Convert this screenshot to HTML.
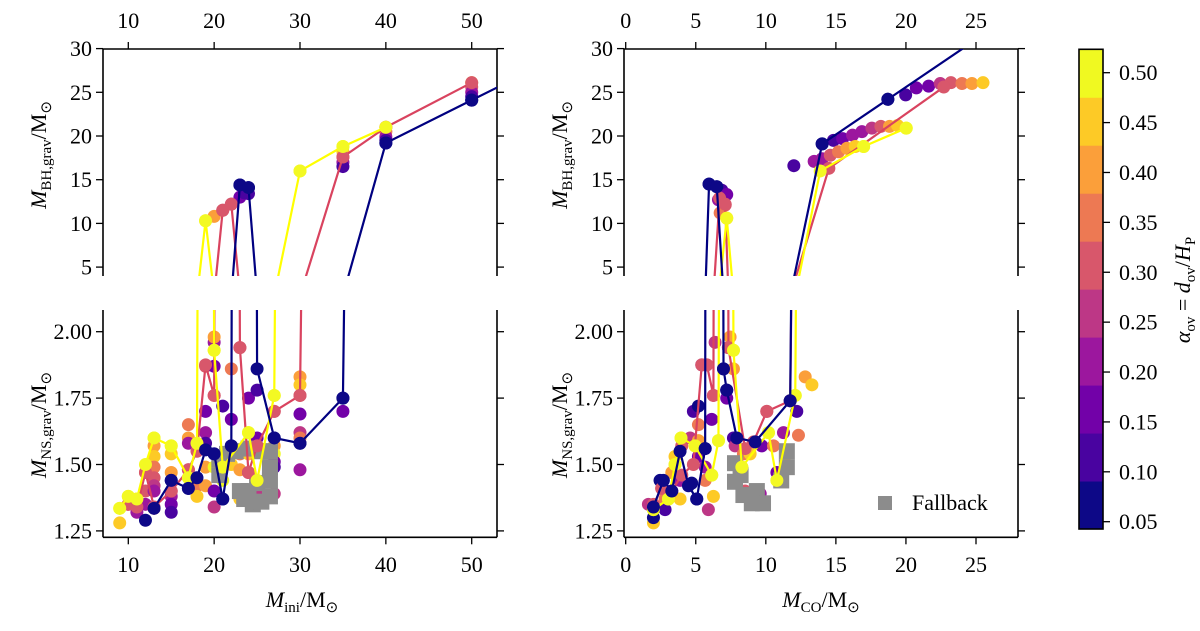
<!DOCTYPE html>
<html><head><meta charset="utf-8">
<style>
html,body{margin:0;padding:0;background:#fff;}
svg, svg text{font-family:'Liberation Serif', serif !important;}
</style></head>
<body>
<svg id="fig" width="1200" height="626" viewBox="0 0 1200 626" xmlns="http://www.w3.org/2000/svg">
<defs>
<clipPath id="clipTL"><rect x="103" y="49" width="394" height="227"/></clipPath>
<clipPath id="clipBL"><rect x="103" y="310" width="394" height="228"/></clipPath>
<clipPath id="clipTR"><rect x="624" y="49" width="394" height="227"/></clipPath>
<clipPath id="clipBR"><rect x="624" y="310" width="394" height="228"/></clipPath>
</defs>
</svg>
<script>
// ---------- data ----------
const plasmaColors = ["#0d0887","#4903a0","#7201a8","#9c179e","#bd3786","#d8576b","#ed7953","#fb9f3a","#fdca26","#f0f921"];
const alphaLevels = [0.05,0.10,0.15,0.20,0.25,0.30,0.35,0.40,0.45,0.50];
const cbarTicks = [0.05,0.10,0.15,0.20,0.25,0.30,0.35,0.40,0.45,0.50];

const iniTicks = [10,20,30,40,50];
const coTicks = [0,5,10,15,20,25];
const bhTicks = [5,10,15,20,25,30];
const nsTicks = [1.25,1.50,1.75,2.00];

// left: M_ini panels — NS scatter
const iniNsX = [9,9,10,11,10,11,12,12,13,12,12,13,13,13,13,13,13,13,15,15,15,15,15,15,15,15,17,17,17,17,17,17,18,18,19,19,19,19,19,19,20,20,20,20,20,20,20,20,20,21,21,21,21,22,22,22,22,23,23,23,23,24,24,24,24,25,25,25,25,25,25,24,27,27,27,27,27,27,27,27,30,30,30,30,30,30,30,30,35,35];
const iniNsY = [1.28,1.335,1.38,1.37,1.35,1.32,1.35,1.29,1.335,1.40,1.47,1.60,1.57,1.53,1.49,1.45,1.42,1.40,1.57,1.54,1.47,1.44,1.40,1.38,1.35,1.32,1.65,1.60,1.58,1.48,1.45,1.41,1.42,1.38,1.87,1.70,1.62,1.58,1.49,1.42,1.96,1.98,1.93,1.87,1.76,1.54,1.49,1.40,1.34,1.72,1.49,1.44,1.37,1.86,1.67,1.57,1.50,1.94,1.54,1.48,1.37,1.75,1.62,1.54,1.47,1.78,1.60,1.57,1.44,1.40,1.36,1.36,1.76,1.70,1.60,1.57,1.54,1.51,1.49,1.39,1.83,1.80,1.76,1.69,1.62,1.58,1.48,1.60,1.75,1.70];
const iniNsC = [8,9,9,8,6,3,3,0,5,5,6,9,7,8,6,5,4,3,9,8,7,0,5,3,2,1,6,7,3,4,9,0,6,8,5,2,3,1,7,7,3,7,9,2,5,0,9,2,4,1,9,9,0,6,2,0,8,5,6,7,8,2,9,8,3,1,2,5,9,4,8,7,9,5,0,7,9,2,1,4,7,8,5,2,4,0,3,6,0,2];
// left: BH scatter
const iniBhX = [19,20,21,22,23,23,24,24,23.5,30,35,35,35,35,35,40,40,40,40,40,50,50,50,50,50];
const iniBhY = [10.3,10.8,11.5,12.2,13.0,14.4,14.1,13.4,13.5,16.0,18.8,18.2,17.6,17.0,16.5,21.0,20.5,19.9,19.5,19.2,26.1,25.6,25.0,24.5,24.1];
const iniBhC = [9,7,5,4,2,0,0,1,1,9,9,8,6,3,1,8,6,3,1,0,8,5,3,1,0];
// left: fallback
const iniFbX = [20.6,20.6,21.5,22.5,24.0,25.5,26.5,26.5,26.5,23.0,23.5,24.5,25.5,26.5,24.0,25.0];
const iniFbY = [1.52,1.46,1.54,1.55,1.56,1.55,1.55,1.49,1.44,1.40,1.37,1.35,1.36,1.38,1.40,1.43];
// left: lines (alpha 0.05, 0.30, 0.50)
const iniNavyX = [13,15,17,18,19,20,21,22,23,24,25,27,30,35,40,50,55];
const iniNavyY = [1.335,1.44,1.41,1.45,1.555,1.54,1.37,1.57,14.4,14.1,1.86,1.60,1.58,1.75,19.2,24.1,26.55];
const iniRedX = [10,11,12,13,15,17,18,19,20,21,22,23,24,25,27,30,35,40,50];
const iniRedY = [1.35,1.34,1.47,1.34,1.40,1.48,1.55,1.875,1.76,11.5,12.2,1.94,1.47,1.57,1.70,1.76,17.6,21.0,26.1];
const iniYelX = [9,10,11,12,13,15,17,18,19,20,21,24,25,27,30,35,40];
const iniYelY = [1.335,1.38,1.37,1.50,1.60,1.57,1.45,1.58,10.3,1.93,1.49,1.62,1.44,1.76,16.0,18.8,21.0];

// right: M_CO panels — NS scatter
const coNsX = [1.98,1.98,1.62,1.98,2.45,2.57,2.81,2.81,3.05,3.29,3.29,3.52,3.52,3.88,3.88,3.95,4.0,4.6,4.83,5.19,5.19,5.19,5.19,4.95,4.71,5.07,5.67,5.67,5.67,5.79,5.43,6.14,6.14,6.26,6.38,5.9,6.26,6.62,6.98,7.33,7.45,7.69,7.69,7.21,7.21,7.69,7.81,7.93,8.29,8.4,8.52,8.88,9.12,9.24,9.6,9.83,9.71,10.07,10.19,10.55,10.79,10.79,11.26,11.5,11.74,12.1,12.21,12.33,12.81,13.29];
const coNsY = [1.28,1.30,1.35,1.33,1.44,1.41,1.37,1.33,1.37,1.47,1.39,1.50,1.53,1.44,1.37,1.60,1.57,1.60,1.70,1.72,1.65,1.59,1.53,1.57,1.43,1.37,1.44,1.49,1.56,1.875,1.875,1.67,1.46,1.76,1.96,1.33,1.38,1.59,1.86,1.94,1.98,1.93,1.86,1.78,1.75,1.60,1.57,1.44,1.49,1.54,1.40,1.54,1.36,1.585,1.39,1.35,1.57,1.70,1.62,1.57,1.44,1.47,1.62,1.54,1.74,1.76,1.70,1.61,1.83,1.80];
const coNsC = [8,0,4,9,0,5,6,1,9,7,4,9,8,3,8,9,5,4,1,0,6,7,2,9,0,0,6,3,0,5,3,2,9,5,4,4,8,9,0,3,7,9,7,0,2,1,4,8,9,6,5,8,8,0,3,7,2,5,9,6,9,2,3,8,0,9,1,6,7,8];
// right: BH scatter
const coBhX = [5.95,6.5,6.86,7.21,6.62,7.1,6.74,7.21,12.0,13.45,14.02,14.83,15.48,16.19,16.86,17.57,18.21,18.83,19.4,20.02,14.02,14.6,15.19,15.79,16.38,16.98,18.71,19.98,20.74,21.62,22.45,23.21,24.0,24.71,25.5];
const coBhY = [14.5,14.2,13.8,13.3,12.7,12.1,11.2,10.6,16.6,17.1,19.1,19.5,19.7,20.1,20.5,20.9,21.1,21.1,21.2,20.9,17.4,17.8,18.2,18.6,18.8,18.8,24.2,24.7,25.5,25.7,26.0,26.1,26.0,26.0,26.1];
const coBhC = [0,0,1,2,3,5,6,8,1,3,0,1,2,3,3,4,5,7,8,9,3,5,6,7,8,9,0,1,2,2,4,5,6,7,8];
// right: fallback
const coFbX = [7.8,7.8,8.4,9.36,9.8,9.0,11.1,11.5,8.2,11.5];
const coFbY = [1.505,1.435,1.385,1.40,1.354,1.354,1.44,1.55,1.46,1.49];
// right: lines
const coNavyX = [1.98,2.69,3.29,3.88,4.48,5.07,5.67,5.95,6.5,6.98,7.21,7.93,9.24,11.74,14.02,18.71,27];
const coNavyY = [1.34,1.44,1.40,1.55,1.42,1.37,1.56,14.5,14.2,1.86,1.78,1.60,1.585,1.74,19.1,24.2,33.2];
const coRedX = [1.98,2.57,3.29,4.0,4.83,5.43,5.79,6.26,6.7,7.1,7.33,8.52,9.12,10.07,11.74,14.5,22.7];
const coRedY = [1.35,1.41,1.40,1.46,1.50,1.875,1.875,1.76,12.9,12.2,1.94,1.56,1.585,1.70,1.74,16.3,25.6];
const coYelX = [1.98,3.05,3.52,3.95,4.95,6.14,6.62,7.21,7.69,8.29,10.19,10.79,12.1,13.88,16.98,20.02];
const coYelY = [1.33,1.37,1.50,1.60,1.57,1.46,1.59,10.6,1.93,1.49,1.62,1.44,1.76,16.0,18.8,20.9];

// ---------- axes ----------
const NS = "http://www.w3.org/2000/svg";
const svg = document.getElementById('fig');
function mk(tag, attrs, parent){ const e=document.createElementNS(NS,tag); for(const k in attrs) e.setAttribute(k,attrs[k]); if(tag==='text') e.style.fontFamily="'Liberation Serif', serif"; (parent||svg).appendChild(e); return e; }
function lin(d0,d1,r0,r1){ return v => r0 + (v-d0)*(r1-r0)/(d1-d0); }

const xIni = lin(10,50,128.3,471.7);
const xCo  = lin(0,25,625.7,976);
const yBh  = lin(30,5,48.6,267.1);
const yNs  = lin(2.0,1.25,331.7,530.9);
const cbY  = lin(0.05,0.50,521.7,72.7);

const panels = [
  {name:'ini-bh', x:xIni, y:yBh, clip:'clipTL', L:103, R:497, T:49, B:276, top:true},
  {name:'ini-ns', x:xIni, y:yNs, clip:'clipBL', L:103, R:497, T:310, B:537.3, top:false},
  {name:'co-bh', x:xCo, y:yBh, clip:'clipTR', L:624, R:1018, T:49, B:276, top:true},
  {name:'co-ns', x:xCo, y:yNs, clip:'clipBR', L:624, R:1018, T:310, B:537.3, top:false},
];

function drawFrame(p, xt, yt, yfmt){
  const g = mk('g',{});
  
  
  const st = {stroke:'#000','stroke-width':1.6,fill:'none'};
  mk('line',Object.assign({x1:p.L,y1:p.T,x2:p.L,y2:p.B},st),g);
  mk('line',Object.assign({x1:p.R,y1:p.T,x2:p.R,y2:p.B},st),g);
  const yEdge = p.top ? p.T : p.B;
  mk('line',Object.assign({x1:p.L,y1:yEdge,x2:p.R,y2:yEdge},st),g);
  xt.forEach(v=>{
    const px=p.x(v);
    if(px<p.L-1||px>p.R+1) return;
    const y2 = p.top ? yEdge-7 : yEdge+7;
    mk('line',{x1:px,y1:yEdge,x2:px,y2:y2,stroke:'#000','stroke-width':1.3},g);
    const t = mk('text',{x:px,y:p.top?28:572,'text-anchor':'middle','font-size':22},g);
    t.textContent=v;
    
    
  });
  yt.forEach(v=>{
    const py=p.y(v);
    mk('line',{x1:p.L,y1:py,x2:p.L-7,y2:py,stroke:'#000','stroke-width':1.3},g);
    mk('line',{x1:p.R,y1:py,x2:p.R+7,y2:py,stroke:'#000','stroke-width':1.3},g);
    const t = mk('text',{x:p.L-11,y:py+7.5,'text-anchor':'end','font-size':22},g);
    t.textContent=yfmt(v);
    
    
  });
}
drawFrame(panels[0], iniTicks, bhTicks, v=>String(v));
drawFrame(panels[1], iniTicks, nsTicks, v=>v.toFixed(2));
drawFrame(panels[2], coTicks, bhTicks, v=>String(v));
drawFrame(panels[3], coTicks, nsTicks, v=>v.toFixed(2));

function drawFallback(p, xs, ys){
  const g = mk('g',{'clip-path':'url(#'+p.clip+')'});
  
  
  xs.forEach((v,i)=>{
    const r = mk('rect',{x:p.x(v)-8,y:p.y(ys[i])-8,width:16,height:16,fill:'#8c8c8c'},g);
    
    
  });
}
function drawScatter(p, xs, ys, cs){
  const g = mk('g',{'clip-path':'url(#'+p.clip+')'});
  
  
  xs.forEach((v,i)=>{
    const c = mk('circle',{cx:p.x(v),cy:p.y(ys[i]),r:6.5,fill:plasmaColors[cs[i]]},g);
    
    
  });
}
function drawLine(p, xs, ys, color, dotColor, label){
  const g = mk('g',{'clip-path':'url(#'+p.clip+')'});
  
  
  const pts = xs.map((v,i)=>{
    let yy = p.y(ys[i]);
    yy = Math.max(-3000, Math.min(4000, yy));
    return p.x(v).toFixed(2)+','+yy.toFixed(2);
  }).join(' ');
  mk('polyline',{points:pts,fill:'none',stroke:color,'stroke-width':2.2,'stroke-linejoin':'round'},g);
  xs.forEach((v,i)=>{
    const c = mk('circle',{cx:p.x(v),cy:p.y(ys[i]),r:6.5,fill:dotColor},g);
    
    
  });
}

// left panels
drawScatter(panels[1], iniNsX, iniNsY, iniNsC);
[panels[0],panels[1]].forEach(p=>drawFallback(p, iniFbX, iniFbY));
drawScatter(panels[0], iniBhX, iniBhY, iniBhC);
[panels[0],panels[1]].forEach(p=>{
  drawLine(p, iniRedX, iniRedY, '#d9435f', plasmaColors[5], 'alpha-030');
  drawLine(p, iniYelX, iniYelY, '#ffff00', '#f3f923', 'alpha-050');
  drawLine(p, iniNavyX, iniNavyY, '#000080', plasmaColors[0], 'alpha-005');
});
// right panels
drawScatter(panels[3], coNsX, coNsY, coNsC);
[panels[2],panels[3]].forEach(p=>drawFallback(p, coFbX, coFbY));
drawScatter(panels[2], coBhX, coBhY, coBhC);
[panels[2],panels[3]].forEach(p=>{
  drawLine(p, coRedX, coRedY, '#d9435f', plasmaColors[5], 'alpha-030');
  drawLine(p, coYelX, coYelY, '#ffff00', '#f3f923', 'alpha-050');
  drawLine(p, coNavyX, coNavyY, '#000080', plasmaColors[0], 'alpha-005');
});

// colorbar
const cb = mk('g',{});


const cbTop=49.3, cbBot=529, bandH=(cbBot-cbTop)/plasmaColors.length;
plasmaColors.forEach((c,i)=>{
  const r = mk('rect',{x:1079,y:cbBot-(i+1)*bandH,width:24,height:bandH+0.5,fill:c},cb);
  
  
});
mk('rect',{x:1079,y:cbTop,width:24,height:cbBot-cbTop,fill:'none',stroke:'#000','stroke-width':1.6},cb);
cbarTicks.forEach(v=>{
  const py=cbY(v);
  mk('line',{x1:1103,y1:py,x2:1110,y2:py,stroke:'#000','stroke-width':1.3},cb);
  const t = mk('text',{x:1119,y:py+7.5,'font-size':22},cb);
  t.textContent=v.toFixed(2);
  
  
});
</script>
<div style="position:absolute;left:0;top:0;width:1200px;height:626px;pointer-events:none;">
<svg width="1200" height="626" style="position:absolute;left:0;top:0;">
  <text transform="translate(46,155) rotate(-90)" text-anchor="middle" font-size="22"><tspan font-style="italic">M</tspan><tspan font-size="15" dy="5">BH,grav</tspan><tspan dy="-5">/M</tspan><tspan font-size="15" dy="5">⊙</tspan></text>
  <text transform="translate(46,425) rotate(-90)" text-anchor="middle" font-size="22"><tspan font-style="italic">M</tspan><tspan font-size="15" dy="5">NS,grav</tspan><tspan dy="-5">/M</tspan><tspan font-size="15" dy="5">⊙</tspan></text>
  <text transform="translate(567,155) rotate(-90)" text-anchor="middle" font-size="22"><tspan font-style="italic">M</tspan><tspan font-size="15" dy="5">BH,grav</tspan><tspan dy="-5">/M</tspan><tspan font-size="15" dy="5">⊙</tspan></text>
  <text transform="translate(567,425) rotate(-90)" text-anchor="middle" font-size="22"><tspan font-style="italic">M</tspan><tspan font-size="15" dy="5">NS,grav</tspan><tspan dy="-5">/M</tspan><tspan font-size="15" dy="5">⊙</tspan></text>
  <text x="302" y="607" text-anchor="middle" font-size="22"><tspan font-style="italic">M</tspan><tspan font-size="15" dy="5">ini</tspan><tspan dy="-5">/M</tspan><tspan font-size="15" dy="5">⊙</tspan></text>
  <text x="821" y="607" text-anchor="middle" font-size="22"><tspan font-style="italic">M</tspan><tspan font-size="15" dy="5">CO</tspan><tspan dy="-5">/M</tspan><tspan font-size="15" dy="5">⊙</tspan></text>
  <text transform="translate(1190,290) rotate(-90)" text-anchor="middle" font-size="22"><tspan font-style="italic">α</tspan><tspan font-size="15" dy="5">ov</tspan><tspan dy="-5"> = </tspan><tspan font-style="italic">d</tspan><tspan font-size="15" dy="5">ov</tspan><tspan dy="-5">/</tspan><tspan font-style="italic">H</tspan><tspan font-size="15" dy="5">P</tspan></text>
  <g>
    <rect x="878" y="496" width="14" height="14" fill="#8c8c8c"/>
    <text x="912" y="510" font-size="22">Fallback</text>
  </g>
</svg>
</div>
</body></html>
